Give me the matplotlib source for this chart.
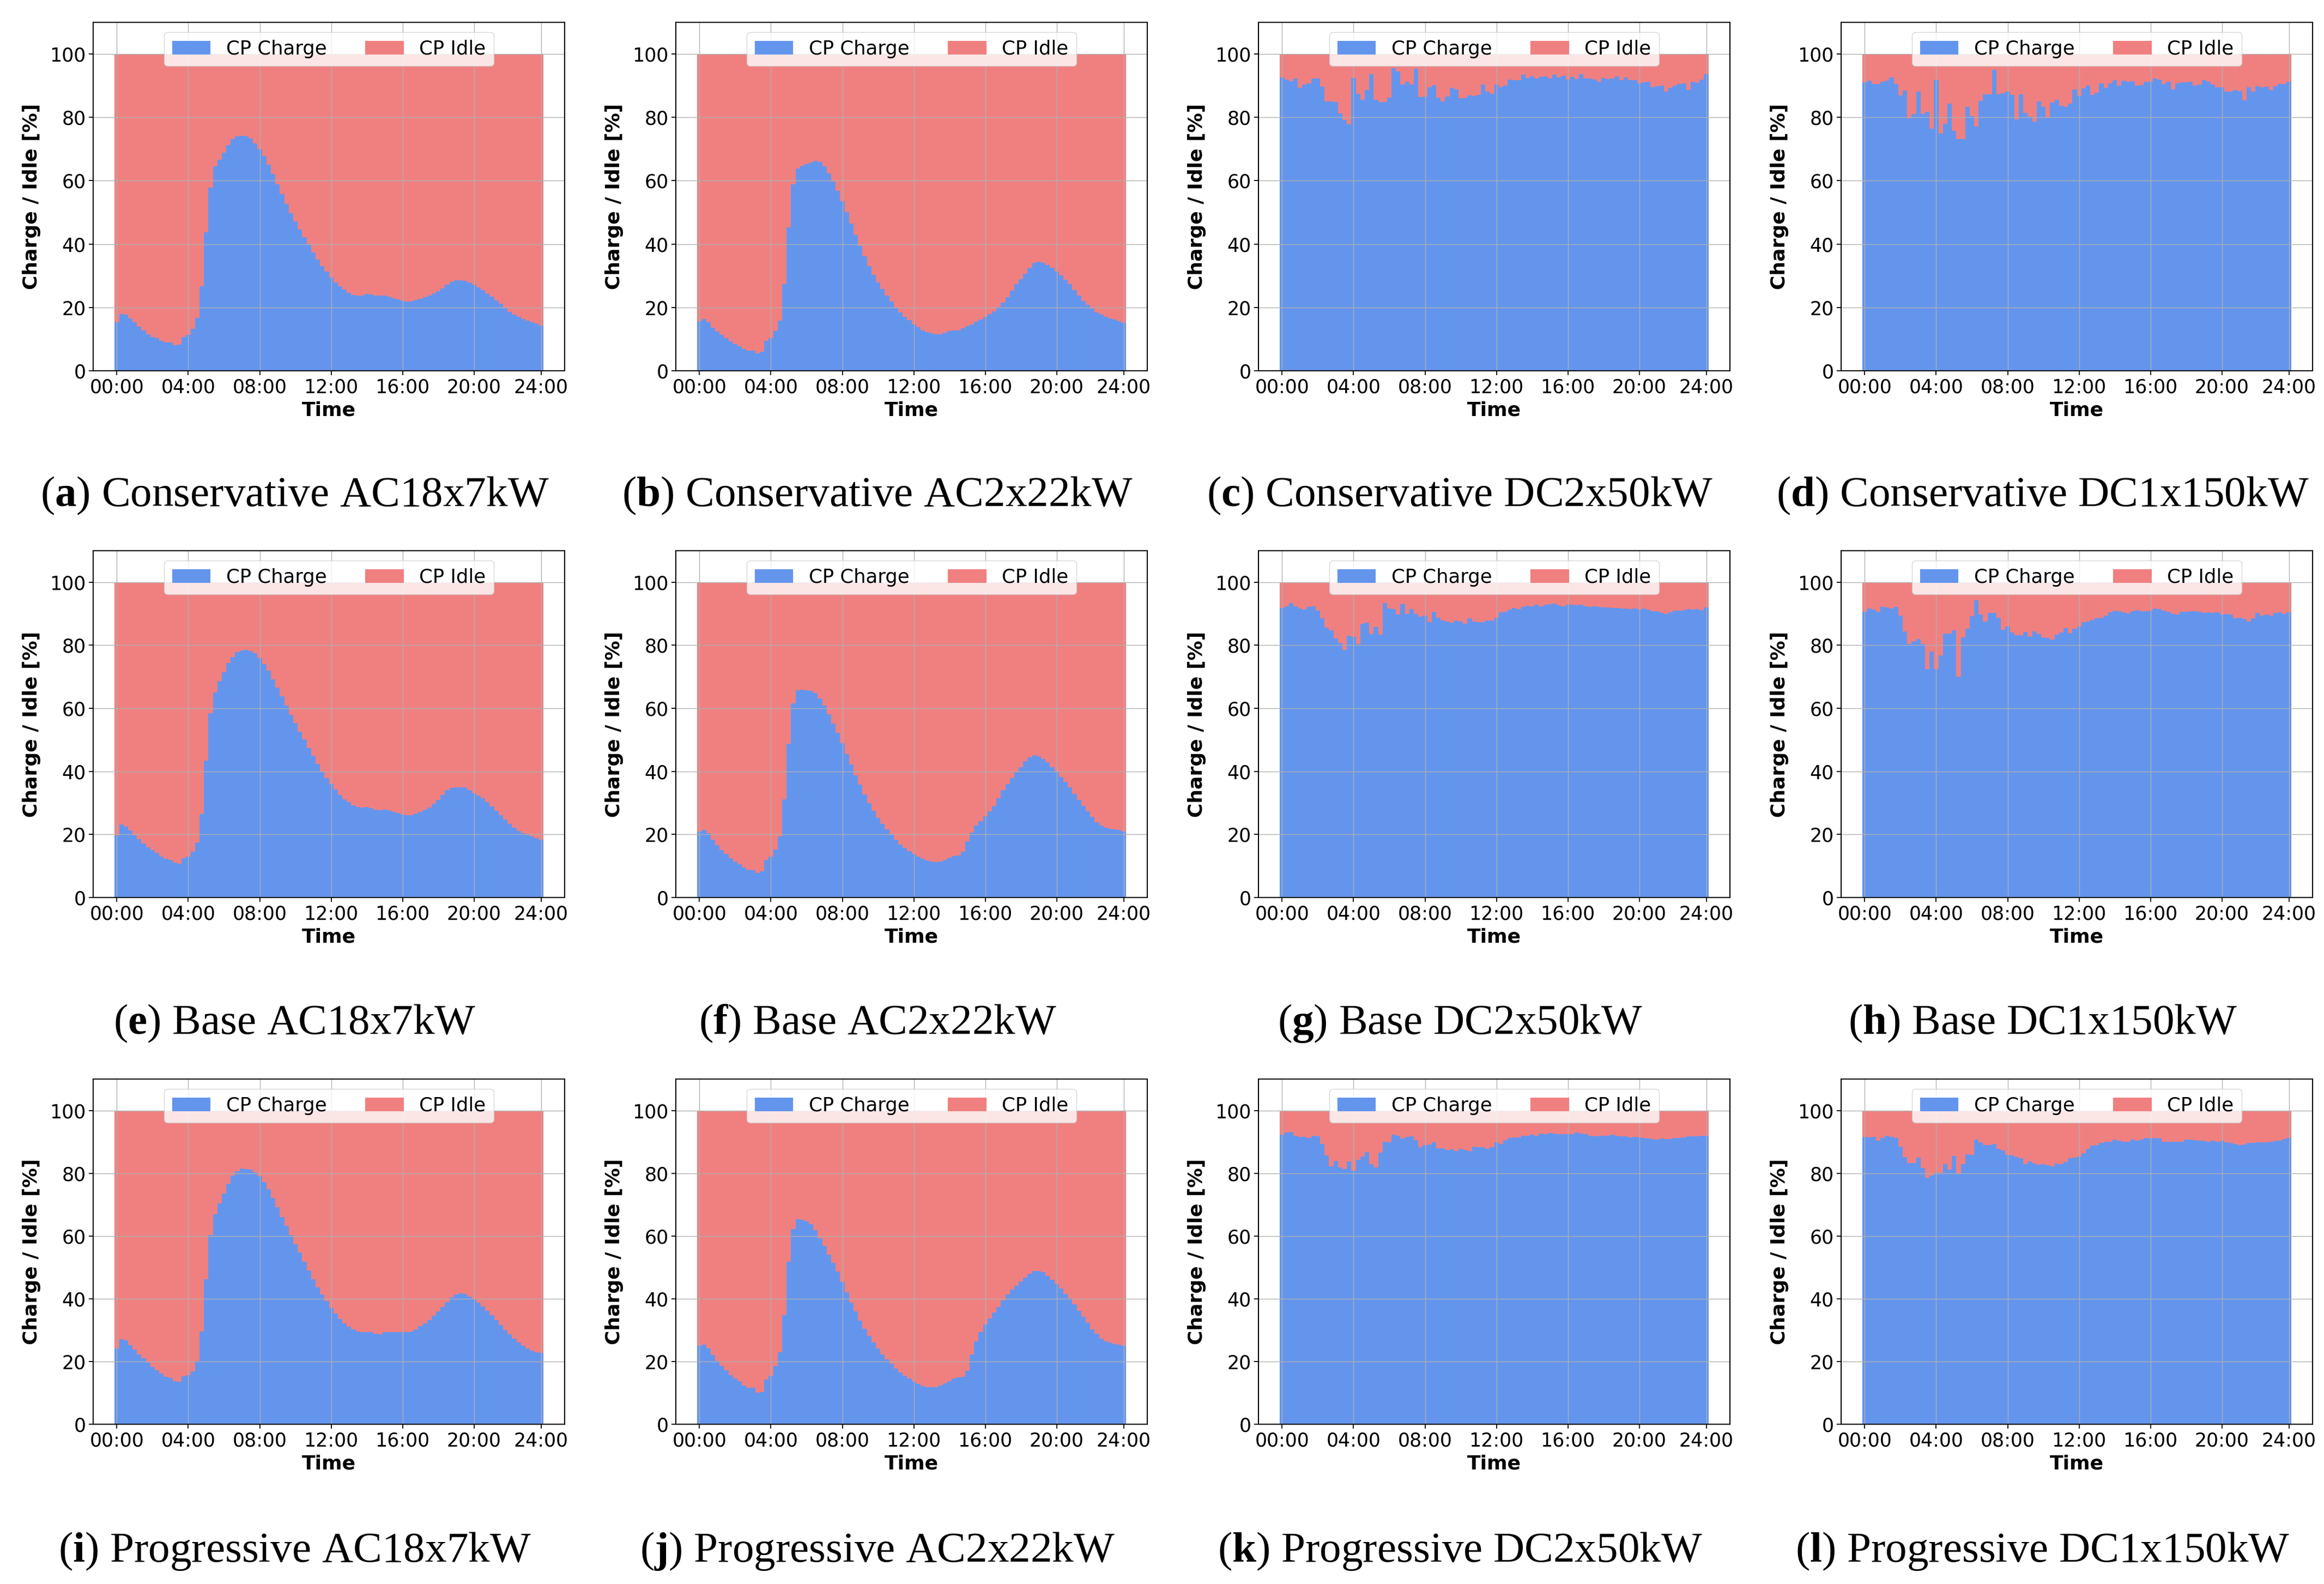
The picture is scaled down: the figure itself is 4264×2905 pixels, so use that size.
import numpy as np
import matplotlib.pyplot as plt

# share of the charge points that are charging, per 15 min slot (96 slots)
cons_ac18 = [15.3, 17.9, 17.8, 16.6, 15.4, 14.0, 12.8, 11.6, 10.7, 10.3, 9.5, 8.9,
             8.9, 8.1, 8.2, 10.7, 11.3, 13.2, 16.7, 26.6, 43.7, 57.9, 64.5, 66.7,
             68.8, 71.3, 73.2, 74.1, 74.2, 74.0, 73.3, 71.8, 69.9, 67.8, 65.1, 62.1,
             58.9, 55.8, 52.6, 49.7, 47.2, 44.6, 42.1, 39.7, 37.3, 35.2, 33.1, 31.3,
             29.5, 27.9, 26.6, 25.7, 24.7, 24.0, 23.7, 23.8, 24.2, 24.1, 23.8, 23.7,
             23.8, 23.4, 22.9, 22.5, 22.1, 21.9, 21.8, 22.3, 22.8, 23.2, 23.7, 24.4,
             25.1, 26.0, 27.2, 28.1, 28.6, 28.6, 28.4, 27.9, 27.2, 26.3, 25.5, 24.4,
             23.4, 22.2, 21.1, 19.8, 18.6, 17.7, 17.1, 16.4, 15.8, 15.4, 14.9, 14.3]
cons_ac2 = [15.6, 16.3, 15.3, 13.6, 12.4, 11.4, 10.3, 9.3, 8.4, 7.7, 6.8, 6.3,
            6.3, 5.5, 6.1, 9.5, 10.3, 12.6, 15.8, 27.4, 45.3, 58.9, 63.9, 64.8,
            65.2, 65.8, 66.3, 66.0, 64.5, 62.3, 59.8, 56.8, 53.6, 50.1, 46.5, 42.9,
            39.5, 36.2, 33.1, 30.3, 27.9, 25.8, 23.8, 21.9, 20.0, 18.5, 17.1, 16.0,
            14.7, 13.8, 12.8, 12.3, 11.8, 11.6, 11.6, 12.0, 12.5, 12.8, 12.8, 13.4,
            14.2, 14.7, 15.5, 16.2, 17.1, 17.9, 18.7, 20.2, 21.6, 23.2, 25.3, 27.4,
            28.9, 30.7, 32.6, 34.0, 34.4, 34.1, 33.4, 32.6, 31.4, 30.1, 28.8, 27.4,
            25.5, 23.7, 22.1, 20.8, 19.6, 18.5, 17.7, 17.1, 16.6, 16.2, 15.6, 15.2]
cons_dc2 = [92.6, 92.0, 91.4, 92.3, 89.4, 90.3, 90.8, 92.2, 92.2, 89.7, 85.1, 85.1,
            84.9, 81.3, 79.2, 77.8, 92.4, 87.5, 85.6, 88.6, 93.7, 85.5, 84.9, 84.9,
            86.2, 95.6, 94.5, 90.3, 91.2, 90.3, 95.4, 86.5, 86.6, 89.5, 90.2, 86.2,
            85.0, 86.6, 89.4, 88.9, 86.1, 86.1, 86.9, 86.7, 87.1, 90.3, 88.1, 87.5,
            90.3, 89.6, 90.0, 92.0, 91.7, 91.7, 93.4, 92.5, 92.9, 92.3, 92.7, 92.9,
            92.3, 93.4, 92.6, 93.2, 92.0, 92.7, 92.1, 93.7, 92.3, 92.3, 92.0, 91.3,
            92.5, 92.1, 92.3, 92.9, 91.7, 92.6, 91.7, 91.7, 90.8, 91.1, 91.2, 89.6,
            89.8, 90.1, 88.1, 89.3, 90.0, 90.5, 90.7, 88.6, 91.3, 90.9, 91.9, 93.7]
cons_dc1 = [91.0, 91.5, 90.5, 90.5, 91.2, 91.5, 92.6, 90.5, 87.0, 88.4, 79.7, 81.0,
            88.1, 81.0, 81.8, 76.4, 91.7, 74.8, 77.9, 84.3, 75.7, 73.2, 73.2, 83.3,
            80.4, 77.2, 85.2, 87.3, 87.3, 95.1, 87.3, 87.6, 88.1, 87.1, 79.4, 87.3,
            81.5, 80.2, 78.6, 85.0, 83.4, 80.1, 84.7, 85.5, 83.6, 83.4, 84.3, 88.8,
            86.8, 89.2, 90.0, 87.1, 87.8, 90.7, 89.3, 90.7, 91.7, 90.0, 91.5, 91.2,
            91.4, 90.1, 90.2, 91.2, 91.3, 92.3, 91.9, 90.5, 91.3, 88.9, 90.7, 91.0,
            91.0, 91.2, 90.1, 90.3, 91.7, 91.2, 90.3, 89.6, 89.6, 88.1, 88.1, 88.6,
            88.3, 85.4, 89.6, 88.1, 89.8, 89.6, 89.7, 88.7, 89.8, 90.5, 90.5, 91.2]

base_ac18 = [19.7, 23.1, 22.5, 21.3, 19.8, 18.5, 17.2, 15.9, 15.1, 14.1, 13.0, 12.2,
             12.0, 11.1, 10.7, 12.5, 13.0, 14.6, 17.5, 26.5, 43.4, 58.5, 65.1, 68.6,
             71.4, 74.4, 76.3, 77.8, 78.4, 78.5, 78.2, 77.4, 76.0, 74.1, 71.9, 69.1,
             66.6, 63.8, 60.8, 57.9, 55.3, 52.6, 50.1, 47.4, 45.0, 42.4, 40.0, 37.8,
             35.9, 34.2, 32.6, 31.2, 30.2, 29.3, 28.7, 28.6, 28.7, 28.3, 27.8, 27.7,
             27.8, 27.6, 27.2, 26.8, 26.3, 26.1, 26.2, 26.7, 27.2, 27.8, 28.6, 29.7,
             31.0, 32.6, 34.0, 34.7, 34.9, 35.0, 34.9, 34.0, 33.1, 32.4, 31.4, 30.2,
             28.9, 27.5, 26.1, 24.7, 23.4, 22.1, 21.1, 20.4, 19.9, 19.4, 18.9, 18.3]
base_ac2 = [21.0, 21.5, 20.4, 18.3, 16.6, 15.1, 13.8, 12.4, 11.4, 10.6, 9.5, 8.8,
            8.6, 7.7, 8.3, 12.0, 13.0, 15.3, 19.4, 31.2, 48.8, 61.5, 65.7, 65.9,
            65.8, 65.5, 64.9, 63.1, 60.8, 58.1, 55.1, 52.2, 49.0, 45.5, 42.2, 38.8,
            35.8, 32.7, 29.9, 27.5, 25.3, 23.4, 21.7, 19.9, 18.3, 16.8, 15.7, 14.7,
            13.9, 13.0, 12.3, 11.7, 11.4, 11.3, 11.4, 12.0, 12.6, 13.2, 13.4, 14.6,
            17.9, 20.6, 22.8, 24.2, 25.7, 27.4, 29.1, 31.5, 34.0, 35.9, 37.8, 39.8,
            41.4, 43.2, 44.4, 45.2, 44.8, 43.9, 42.9, 41.4, 39.7, 38.2, 36.6, 35.0,
            32.9, 31.0, 29.0, 27.3, 25.6, 23.8, 22.8, 22.2, 21.8, 21.7, 21.4, 21.0]
base_dc2 = [91.9, 92.4, 93.4, 92.4, 91.6, 91.3, 92.2, 92.4, 91.0, 88.5, 85.6, 84.7,
            82.1, 80.7, 78.6, 83.1, 82.6, 80.5, 86.8, 87.1, 83.6, 85.8, 83.4, 93.4,
            91.6, 91.5, 89.7, 93.0, 89.9, 91.5, 89.9, 89.0, 89.4, 87.4, 90.6, 88.7,
            87.9, 87.5, 87.1, 87.9, 87.6, 86.8, 88.5, 87.6, 87.3, 87.3, 87.9, 87.9,
            88.7, 90.5, 90.6, 91.3, 91.9, 91.5, 92.1, 92.6, 92.4, 92.9, 92.4, 92.9,
            93.1, 93.2, 92.7, 92.4, 92.8, 92.8, 92.7, 92.8, 92.4, 92.1, 92.4, 92.2,
            92.0, 92.0, 91.9, 91.9, 91.6, 91.7, 91.5, 91.7, 91.3, 91.6, 91.3, 90.8,
            90.8, 90.3, 89.9, 90.5, 91.0, 91.0, 91.1, 91.5, 91.3, 91.5, 91.1, 92.0]
base_dc1 = [90.6, 91.7, 91.3, 90.6, 92.1, 92.0, 91.7, 92.2, 89.4, 84.4, 80.4, 81.3,
            82.0, 80.5, 72.5, 78.0, 72.5, 76.8, 83.7, 83.7, 84.7, 70.0, 82.5, 85.3,
            89.2, 94.2, 89.7, 87.6, 90.3, 90.3, 88.7, 85.0, 86.0, 84.1, 83.2, 83.2,
            84.2, 82.9, 84.4, 83.5, 82.5, 82.3, 81.8, 83.3, 84.1, 85.4, 83.9, 85.3,
            86.0, 87.3, 87.5, 88.1, 88.5, 88.8, 89.4, 90.5, 91.0, 90.8, 90.5, 90.1,
            90.8, 91.1, 90.8, 90.8, 91.0, 91.7, 91.5, 90.9, 90.6, 89.9, 89.7, 90.6,
            90.7, 90.8, 90.8, 90.7, 90.3, 90.5, 90.3, 90.5, 89.7, 89.9, 89.7, 88.6,
            88.7, 88.4, 87.6, 88.6, 90.3, 89.4, 89.7, 89.4, 90.3, 90.5, 89.9, 90.5]

prog_ac18 = [24.1, 27.1, 26.8, 25.2, 23.8, 22.2, 21.0, 19.7, 18.3, 17.2, 16.1, 15.1,
             14.8, 13.8, 13.5, 15.3, 15.6, 16.9, 20.1, 29.5, 46.2, 60.3, 66.9, 70.3,
             73.5, 76.7, 79.3, 80.7, 81.5, 81.4, 81.1, 80.3, 79.0, 77.1, 74.9, 72.2,
             69.1, 66.1, 63.3, 60.3, 57.4, 54.7, 51.8, 49.0, 46.3, 43.7, 41.4, 39.3,
             37.1, 35.2, 33.5, 32.1, 31.1, 30.3, 29.5, 29.3, 29.4, 29.3, 28.9, 28.6,
             29.3, 29.4, 29.4, 29.3, 29.3, 29.3, 29.5, 30.3, 31.3, 32.1, 33.2, 34.5,
             35.9, 37.3, 39.0, 40.5, 41.4, 41.7, 41.6, 40.7, 39.9, 38.8, 37.6, 36.2,
             34.8, 33.2, 31.6, 30.1, 28.6, 27.2, 26.0, 25.0, 24.1, 23.4, 22.9, 22.7]
prog_ac2 = [25.0, 25.4, 24.1, 22.0, 20.1, 18.6, 17.2, 15.6, 14.6, 13.7, 12.4, 11.6,
            11.6, 10.0, 10.3, 14.3, 15.4, 18.6, 22.9, 34.8, 51.8, 62.2, 65.3, 65.1,
            64.6, 63.7, 61.8, 59.3, 56.9, 54.1, 51.5, 48.6, 45.4, 42.0, 38.8, 35.9,
            33.0, 30.4, 28.2, 26.1, 24.1, 22.3, 20.7, 19.3, 17.8, 16.5, 15.4, 14.6,
            13.6, 12.8, 12.1, 11.9, 11.8, 11.9, 12.3, 13.0, 13.8, 14.6, 14.9, 15.2,
            17.0, 22.2, 26.5, 29.3, 31.8, 33.7, 35.6, 37.4, 39.4, 41.4, 42.9, 44.1,
            45.6, 46.8, 47.9, 48.8, 48.8, 48.4, 47.3, 46.0, 44.6, 43.3, 41.6, 40.1,
            38.3, 36.2, 34.3, 32.3, 30.3, 28.8, 27.3, 26.5, 26.0, 25.6, 25.4, 25.0]
prog_dc2 = [92.3, 92.9, 93.1, 92.0, 91.5, 91.5, 91.3, 91.9, 91.7, 89.3, 85.7, 82.2,
            84.0, 81.9, 81.4, 83.8, 80.8, 84.3, 85.3, 86.7, 82.9, 81.9, 86.5, 90.1,
            89.8, 92.3, 92.0, 91.0, 91.5, 91.8, 90.6, 88.2, 88.9, 89.1, 89.8, 88.0,
            88.0, 87.4, 87.5, 87.1, 87.8, 87.4, 87.1, 88.4, 88.2, 88.2, 87.8, 88.2,
            89.9, 89.3, 90.5, 91.2, 91.4, 91.4, 92.0, 92.0, 92.3, 92.0, 92.6, 92.5,
            92.8, 92.7, 92.5, 92.5, 92.5, 92.5, 92.9, 92.7, 92.5, 92.0, 91.8, 91.9,
            92.0, 91.9, 92.3, 91.9, 91.7, 91.8, 91.4, 91.6, 91.4, 91.2, 91.0, 90.9,
            90.7, 91.0, 90.8, 90.9, 91.2, 91.2, 91.4, 91.7, 91.8, 91.8, 91.9, 92.0]
prog_dc1 = [91.6, 91.4, 91.5, 90.4, 91.2, 92.0, 91.6, 91.2, 88.5, 85.2, 83.2, 83.2,
            85.0, 81.7, 78.5, 79.2, 80.1, 80.1, 82.9, 81.1, 85.5, 79.7, 82.9, 86.1,
            85.9, 90.7, 89.9, 88.9, 88.9, 89.3, 87.8, 87.2, 85.9, 85.7, 85.2, 84.8,
            82.9, 83.8, 83.1, 82.7, 82.9, 82.5, 82.2, 83.1, 82.9, 83.6, 84.8, 85.0,
            85.3, 86.4, 87.8, 88.8, 88.9, 89.6, 90.1, 90.1, 90.7, 90.4, 90.1, 90.1,
            90.7, 90.4, 90.7, 91.2, 91.0, 91.2, 91.1, 90.1, 90.1, 90.1, 90.1, 90.1,
            90.7, 90.7, 90.5, 90.4, 90.4, 90.1, 90.4, 90.1, 90.4, 89.8, 89.6, 89.3,
            88.9, 89.1, 89.7, 89.6, 89.9, 89.9, 89.9, 90.1, 90.4, 90.4, 90.9, 91.2]

scenarios = ["Conservative", "Base", "Progressive"]
configs = ["AC18x7kW", "AC2x22kW", "DC2x50kW", "DC1x150kW"]
letters = "abcdefghijkl"
charge = [[cons_ac18, cons_ac2, cons_dc2, cons_dc1],
          [base_ac18, base_ac2, base_dc2, base_dc1],
          [prog_ac18, prog_ac2, prog_dc2, prog_dc1]]

tick_pos = [0, 16, 32, 48, 64, 80, 95]
tick_labels = ["00:00", "04:00", "08:00", "12:00", "16:00", "20:00", "24:00"]

plt.rcParams['mathtext.fontset'] = 'custom'
plt.rcParams['mathtext.rm'] = 'Liberation Serif'
plt.rcParams['mathtext.bf'] = 'Liberation Serif:bold'

W, H = 4264, 2905
fig = plt.figure(figsize=(W / 100, H / 100), dpi=100)

row_top = [41, 1010, 1979]
row_bot = [680, 1646, 2612]

for r in range(3):
    for c in range(4):
        left = 171 + c * 1069
        ax = fig.add_axes([left / W, 1 - row_bot[r] / H, 865 / W,
                           (row_bot[r] - row_top[r]) / H])
        ch = np.array(charge[r][c])
        idle = 100 - ch
        x = np.arange(len(ch))
        ax.bar(x, ch, width=1.0, color='cornflowerblue', linewidth=0, label='CP Charge')
        ax.bar(x, idle, bottom=ch, width=1.0, color='lightcoral', linewidth=0, label='CP Idle')
        ax.set_ylim(0, 110)
        ax.set_yticks([0, 20, 40, 60, 80, 100])
        ax.set_xticks(tick_pos)
        ax.set_xticklabels(tick_labels)
        ax.tick_params(labelsize=25, length=6, width=1.3)
        ax.grid(True, color='#b0b0b0', linewidth=1.0)
        for sp in ax.spines.values():
            sp.set_linewidth(1.5)
        ax.set_xlabel('Time', fontsize=26, fontweight='bold', labelpad=6)
        ax.set_ylabel('Charge / Idle [%]', fontsize=26, fontweight='bold', labelpad=12)
        ax.legend(loc='upper center', ncol=2, fontsize=25.5)

        k = r * 4 + c
        cap = r'($\mathbf{' + letters[k] + r'}$) ' + scenarios[r] + ' ' + configs[c]
        fig.text((541 + c * 1069) / W, 1 - (928 + r * 968) / H, cap,
                 ha='center', va='baseline', fontsize=57,
                 fontfamily='Liberation Serif')

fig.savefig('out.png', dpi=100)
